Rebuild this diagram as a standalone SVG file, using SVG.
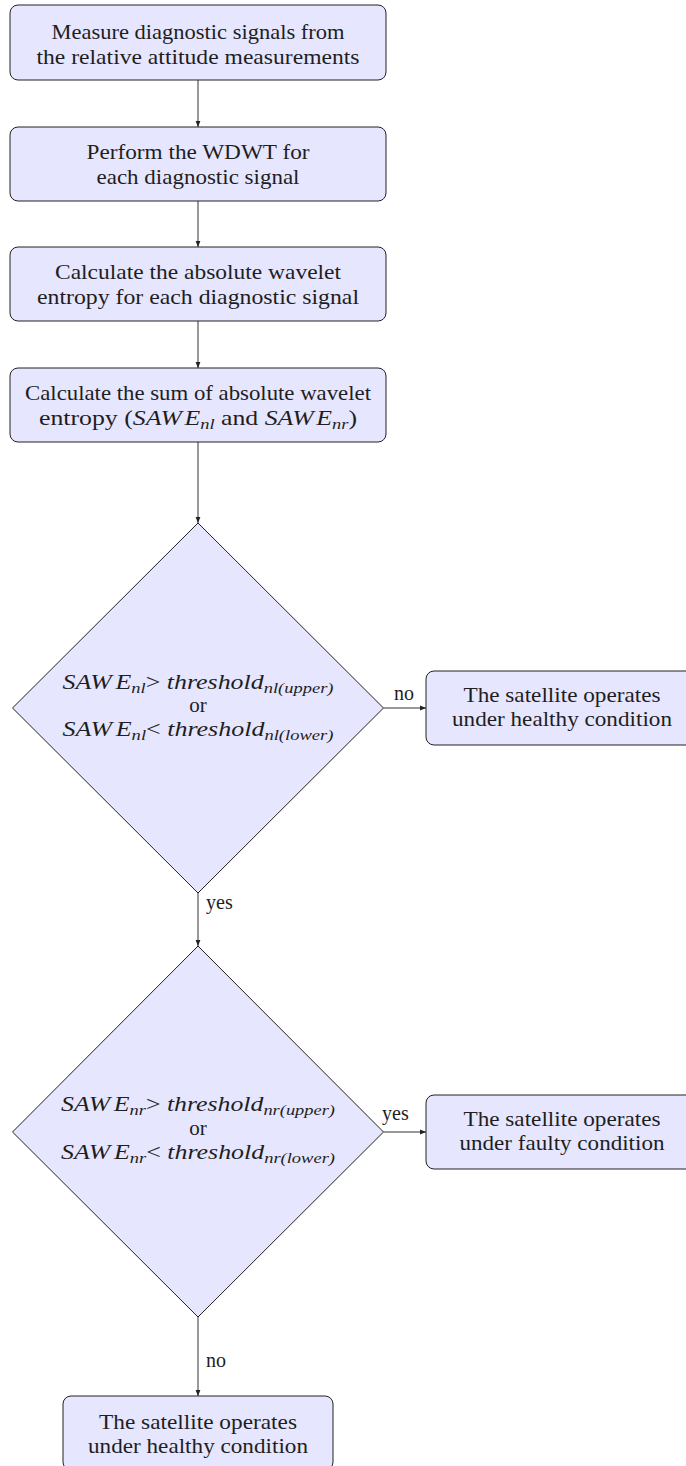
<svg xmlns="http://www.w3.org/2000/svg" width="686" height="1466" viewBox="0 0 686 1466" font-family="'Liberation Serif', 'DejaVu Serif', 'Times New Roman', serif">
  <style>
    .box { fill: #e6e6ff; stroke: #222; stroke-width: 1; }
    .dia { fill: #e6e6ff; stroke: #222; stroke-width: 1; }
    .edge { fill: none; stroke: #333; stroke-width: 1; marker-end: url(#arrow); }
    .t { font-family: 'Liberation Serif', 'DejaVu Serif', 'Times New Roman', serif; font-size: 21px; fill: #1e1e1e; text-anchor: middle; }
    .lbl { font-family: 'Liberation Serif', 'DejaVu Serif', 'Times New Roman', serif; font-size: 20px; fill: #1e1e1e; }
    .it { font-style: italic; }
    .sub { font-style: italic; font-size: 15px; }
  </style>
  <defs>
    <marker id="arrow" viewBox="0 0 6 6" refX="6" refY="3" markerWidth="6" markerHeight="6" markerUnits="userSpaceOnUse" orient="auto">
      <path d="M0,0.6 L6,3 L0,5.4 Z" fill="#222"/>
    </marker>
  </defs>

  <!-- connectors -->
  <g id="connectors">
    <line class="edge" x1="198" y1="80" x2="198" y2="127"/>
    <line class="edge" x1="198" y1="201" x2="198" y2="247"/>
    <line class="edge" x1="198" y1="321" x2="198" y2="368"/>
    <line class="edge" x1="198" y1="442" x2="198" y2="523"/>
    <line class="edge" x1="383.5" y1="708" x2="426" y2="708"/>
    <line class="edge" x1="198" y1="893" x2="198" y2="946"/>
    <line class="edge" x1="383.5" y1="1132" x2="426" y2="1132"/>
    <line class="edge" x1="198" y1="1317" x2="198" y2="1396"/>
    <text class="lbl" x="394" y="700">no</text>
    <text class="lbl" x="206" y="909">yes</text>
    <text class="lbl" x="382" y="1120">yes</text>
    <text class="lbl" x="206" y="1367">no</text>
  </g>

  <!-- process steps -->
  <g id="measure">
    <rect class="box" x="10" y="5" width="376" height="75" rx="8"/>
    <text class="t" x="198" y="39" textLength="293" lengthAdjust="spacingAndGlyphs">Measure diagnostic signals from</text>
    <text class="t" x="198" y="64" textLength="323" lengthAdjust="spacingAndGlyphs">the relative attitude measurements</text>
  </g>

  <g id="wdwt">
    <rect class="box" x="10" y="127" width="376" height="74" rx="8"/>
    <text class="t" x="198" y="159" textLength="223" lengthAdjust="spacingAndGlyphs">Perform the WDWT for</text>
    <text class="t" x="198" y="184" textLength="203" lengthAdjust="spacingAndGlyphs">each diagnostic signal</text>
  </g>

  <g id="entropy">
    <rect class="box" x="10" y="247" width="376" height="74" rx="8"/>
    <text class="t" x="198" y="279" textLength="286" lengthAdjust="spacingAndGlyphs">Calculate the absolute wavelet</text>
    <text class="t" x="198" y="304" textLength="322" lengthAdjust="spacingAndGlyphs">entropy for each diagnostic signal</text>
  </g>

  <g id="sum">
    <rect class="box" x="10" y="368" width="376" height="74" rx="8"/>
    <text class="t" x="198" y="400" textLength="346" lengthAdjust="spacingAndGlyphs">Calculate the sum of absolute wavelet</text>
    <text class="t" x="198" y="425" textLength="318" lengthAdjust="spacingAndGlyphs">entropy (<tspan class="it">SAW</tspan><tspan class="it" dx="2">E</tspan><tspan class="sub" dy="4">nl</tspan><tspan dy="-4"> and </tspan><tspan class="it">SAW</tspan><tspan class="it" dx="2">E</tspan><tspan class="sub" dy="4">nr</tspan><tspan dy="-4">)</tspan></text>
  </g>

  <!-- decisions -->
  <g id="check-nl">
    <polygon class="dia" points="198,523 383.5,708 198,893 12.5,708"/>
    <text class="t" x="198" y="689" textLength="271" lengthAdjust="spacingAndGlyphs"><tspan class="it">SAW</tspan><tspan class="it" dx="3">E</tspan><tspan class="sub" dy="4">nl</tspan><tspan dy="-4">&gt; </tspan><tspan class="it">threshold</tspan><tspan class="sub" dy="4">nl(upper)</tspan></text>
    <text class="t" x="198" y="712">or</text>
    <text class="t" x="198" y="736" textLength="271" lengthAdjust="spacingAndGlyphs"><tspan class="it">SAW</tspan><tspan class="it" dx="3">E</tspan><tspan class="sub" dy="4">nl</tspan><tspan dy="-4">&lt; </tspan><tspan class="it">threshold</tspan><tspan class="sub" dy="4">nl(lower)</tspan></text>
  </g>

  <g id="healthy-nl">
    <rect class="box" x="426" y="671" width="272" height="74" rx="8"/>
    <text class="t" x="562" y="702" textLength="197" lengthAdjust="spacingAndGlyphs">The satellite operates</text>
    <text class="t" x="562" y="726" textLength="220" lengthAdjust="spacingAndGlyphs">under healthy condition</text>
  </g>

  <g id="check-nr">
    <polygon class="dia" points="198,946 383.5,1132 198,1317 12.5,1132"/>
    <text class="t" x="198" y="1111" textLength="274" lengthAdjust="spacingAndGlyphs"><tspan class="it">SAW</tspan><tspan class="it" dx="3">E</tspan><tspan class="sub" dy="4">nr</tspan><tspan dy="-4">&gt; </tspan><tspan class="it">threshold</tspan><tspan class="sub" dy="4">nr(upper)</tspan></text>
    <text class="t" x="198" y="1135">or</text>
    <text class="t" x="198" y="1159" textLength="274" lengthAdjust="spacingAndGlyphs"><tspan class="it">SAW</tspan><tspan class="it" dx="3">E</tspan><tspan class="sub" dy="4">nr</tspan><tspan dy="-4">&lt; </tspan><tspan class="it">threshold</tspan><tspan class="sub" dy="4">nr(lower)</tspan></text>
  </g>

  <g id="faulty-nr">
    <rect class="box" x="426" y="1095" width="272" height="74" rx="8"/>
    <text class="t" x="562" y="1126" textLength="197" lengthAdjust="spacingAndGlyphs">The satellite operates</text>
    <text class="t" x="562" y="1150" textLength="205" lengthAdjust="spacingAndGlyphs">under faulty condition</text>
  </g>

  <g id="healthy-nr">
    <rect class="box" x="63" y="1396" width="270" height="74" rx="8"/>
    <text class="t" x="198" y="1429" textLength="198" lengthAdjust="spacingAndGlyphs">The satellite operates</text>
    <text class="t" x="198" y="1453" textLength="220" lengthAdjust="spacingAndGlyphs">under healthy condition</text>
  </g>
</svg>
